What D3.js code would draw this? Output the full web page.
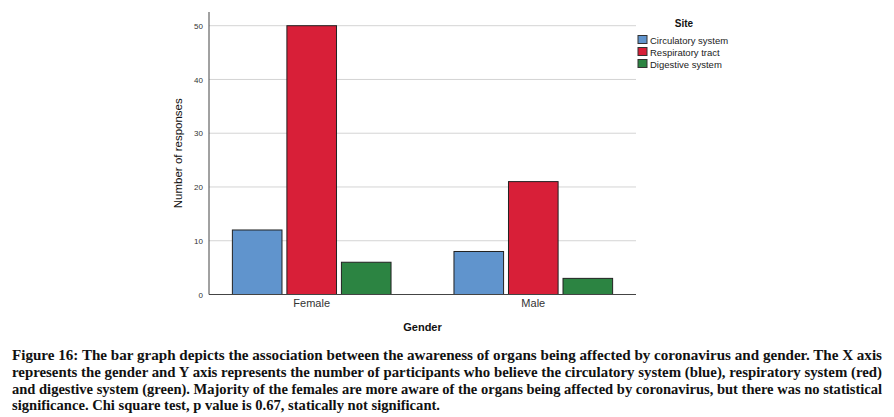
<!DOCTYPE html>
<html>
<head>
<meta charset="utf-8">
<script src="https://cdn.jsdelivr.net/npm/d3@7"></script>
<style>
	body { margin: 0; background: #fff; }
	svg { display: block; }
</style>
</head>
<body>
<div id="chart"></div>
<script>
	'use strict';

	var genders = ['Female', 'Male'];
	var sites = ['Circulatory system', 'Respiratory tract', 'Digestive system'];
	var circulatory = [12, 8];
	var respiratory = [50, 21];
	var digestive = [6, 3];
	var yTicks = [0, 10, 20, 30, 40, 50];
	var captionLines = [
		'Figure 16: The bar graph depicts the association between the awareness of organs being affected by coronavirus and gender. The X axis',
		'represents the gender and Y axis represents the number of participants who believe the circulatory system (blue), respiratory system (red)',
		'and digestive system (green). Majority of the females are more aware of the organs being affected by coronavirus, but there was no statistical',
		'significance. Chi square test, p value is 0.67, statically not significant.'
	];

	var series = [circulatory, respiratory, digestive];
	var colors = ['#6094cd', '#d81f38', '#2c8442'];

	var width = 894,
		height = 417,
		plot = { left: 209, right: 636, top: 12, bottom: 294.5 };

	var svg = d3.select('#chart').append('svg')
		.attr('width', width)
		.attr('height', height);

	var x = d3.scaleBand()
		.domain(genders)
		.range([plot.left, plot.right])
		.paddingInner(0.284)
		.paddingOuter(0.1055);

	var xSub = d3.scaleBand()
		.domain(d3.range(sites.length))
		.range([0, x.bandwidth()])
		.paddingInner(0.09);

	var y = d3.scaleLinear()
		.domain([0, 50])
		.range([plot.bottom, 25.7]);

	// gridlines
	svg.append('g')
		.selectAll('line')
		.data(yTicks.slice(1))
		.enter()
		.append('line')
		.attr('x1', plot.left)
		.attr('x2', plot.right)
		.attr('y1', function(d) { return y(d); })
		.attr('y2', function(d) { return y(d); })
		.attr('stroke', '#d4d4d4')
		.attr('stroke-width', 1);

	// bars
	var rows = [];
	series.forEach(function(values, s) {
		values.forEach(function(v, g) {
			rows.push({ gender: genders[g], site: s, value: v });
		});
	});

	svg.append('g')
		.selectAll('rect')
		.data(rows)
		.enter()
		.append('rect')
		.attr('x', function(d) { return x(d.gender) + xSub(d.site); })
		.attr('y', function(d) { return y(d.value); })
		.attr('width', xSub.bandwidth())
		.attr('height', function(d) { return y(0) - y(d.value); })
		.attr('fill', function(d) { return colors[d.site]; })
		.attr('stroke', '#222')
		.attr('stroke-width', 1);

	// axes
	var yAxis = svg.append('g')
		.attr('transform', 'translate(' + plot.left + ',0)')
		.call(d3.axisLeft(y).tickValues(yTicks).tickSize(0).tickPadding(6));
	yAxis.select('.domain').remove();
	yAxis.selectAll('text')
		.attr('font-family', 'Liberation Sans, Arial, sans-serif')
		.attr('font-size', 8)
		.attr('fill', '#333');

	var xAxis = svg.append('g')
		.attr('transform', 'translate(0,' + plot.bottom + ')')
		.call(d3.axisBottom(x).tickSize(0).tickPadding(5));
	xAxis.select('.domain').remove();
	xAxis.selectAll('text')
		.attr('font-family', 'Liberation Sans, Arial, sans-serif')
		.attr('font-size', 11)
		.attr('fill', '#333');

	svg.append('line')
		.attr('x1', plot.left).attr('x2', plot.left)
		.attr('y1', plot.top).attr('y2', plot.bottom)
		.attr('stroke', '#444');
	svg.append('line')
		.attr('x1', plot.left).attr('x2', plot.right)
		.attr('y1', plot.bottom).attr('y2', plot.bottom)
		.attr('stroke', '#444');

	// axis titles
	svg.append('text')
		.attr('transform', 'translate(182,' + (plot.top + plot.bottom) / 2 + ') rotate(-90)')
		.attr('text-anchor', 'middle')
		.attr('font-family', 'Liberation Sans, Arial, sans-serif')
		.attr('font-size', 11.5)
		.attr('fill', '#111')
		.text('Number of responses');

	svg.append('text')
		.attr('x', (plot.left + plot.right) / 2)
		.attr('y', 331)
		.attr('text-anchor', 'middle')
		.attr('font-family', 'Liberation Sans, Arial, sans-serif')
		.attr('font-size', 11)
		.attr('font-weight', 'bold')
		.attr('fill', '#111')
		.text('Gender');

	// legend
	var legend = svg.append('g').attr('transform', 'translate(638,0)');
	legend.append('text')
		.attr('x', 46)
		.attr('y', 27)
		.attr('text-anchor', 'middle')
		.attr('font-family', 'Liberation Sans, Arial, sans-serif')
		.attr('font-size', 10)
		.attr('font-weight', 'bold')
		.attr('fill', '#111')
		.text('Site');

	var items = legend.selectAll('g.item')
		.data(sites)
		.enter()
		.append('g')
		.attr('class', 'item')
		.attr('transform', function(d, i) { return 'translate(0,' + (35.5 + i * 12) + ')'; });
	items.append('rect')
		.attr('width', 9)
		.attr('height', 8)
		.attr('fill', function(d, i) { return colors[i]; })
		.attr('stroke', '#333');
	items.append('text')
		.attr('x', 12)
		.attr('y', 8)
		.attr('font-family', 'Liberation Sans, Arial, sans-serif')
		.attr('font-size', 9.5)
		.attr('fill', '#222')
		.text(function(d) { return d; });

	// caption
	var lineEnds = [882, 882, 882, 440];
	svg.append('g')
		.selectAll('text')
		.data(captionLines)
		.enter()
		.append('text')
		.attr('x', 12)
		.attr('y', function(d, i) { return 360 + i * 16.8; })
		.attr('font-family', 'Liberation Serif, Times New Roman, serif')
		.attr('font-size', 14)
		.attr('font-weight', 'bold')
		.attr('fill', '#111')
		.attr('textLength', function(d, i) { return lineEnds[i] - 12; })
		.attr('lengthAdjust', 'spacingAndGlyphs')
		.text(function(d) { return d; });
</script>
</body>
</html>
